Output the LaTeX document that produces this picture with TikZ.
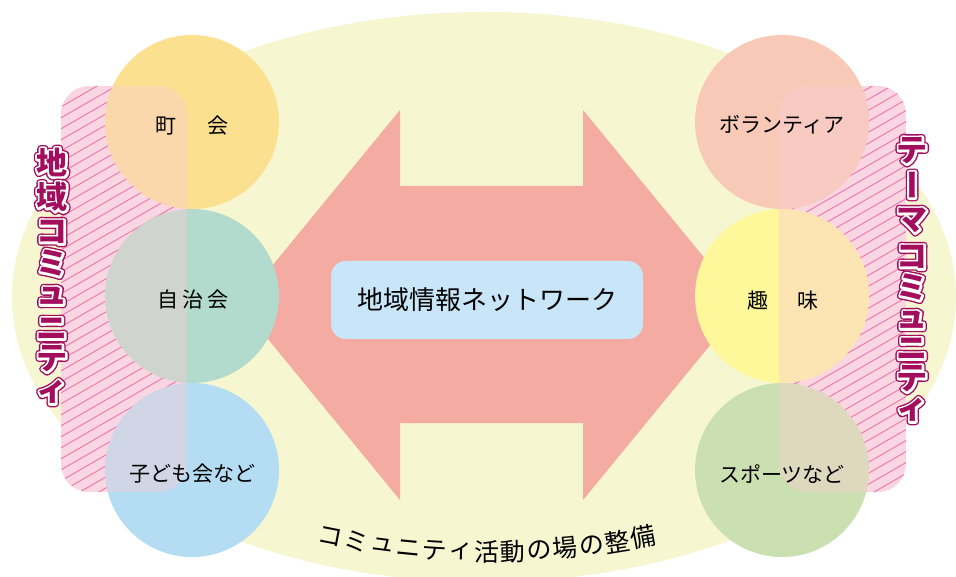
\documentclass[tikz,border=0pt]{standalone}
\usepackage{fontspec}
\setmainfont{Noto Sans CJK JP}
\definecolor{bgyellow}{HTML}{F6F6D0}
\definecolor{arrowpink}{HTML}{F4ABA2}
\definecolor{boxblue}{HTML}{C8E6F8}
\definecolor{hatchbg}{HTML}{FAD6E2}
\definecolor{hatchline}{HTML}{EE73A8}
\definecolor{ovpink}{HTML}{FACDD4}
\definecolor{mag}{HTML}{A30D5D}
\definecolor{cyellow}{HTML}{FBE18F}
\definecolor{cteal}{HTML}{B2DACD}
\definecolor{cblue}{HTML}{B4DDF4}
\definecolor{csalmon}{HTML}{F8C9B6}
\definecolor{clemon}{HTML}{FFF89A}
\definecolor{cgreen}{HTML}{CBE0B0}
\tikzset{
  bubble/.style={circle, inner sep=0pt, minimum size=174pt, draw=none},
  lbl/.style={inner sep=0pt, font=\fontsize{21}{24}\selectfont, text=black},
  vt/.style={inner sep=0pt, text height=23.5pt, text depth=0pt, font=\fontsize{31}{34}\selectfont\bfseries},
  bt/.style={inner sep=0pt, font=\fontsize{25}{28}\selectfont, text=black},
  hatchrect/.style={rounded corners=28pt},
}
\newcommand\stroked[3]{\special{pdf:code 2 Tr 1 j #1 w #2 RG}#3\special{pdf:code 0 Tr}}
\newcommand\vtchar[1]{%
  \makebox[0pt][l]{\color{mag}\stroked{7.2}{0.639 0.051 0.365}{#1}}%
  \makebox[0pt][l]{\color{white}\stroked{4.4}{1 1 1}{#1}}%
  {\color{mag}#1}}
\newcommand\vttitle[3]{% list, x, prefix
  \foreach \ch/\yy/\rr [count=\n] in {#1}{%
    \node[vt, rotate=\rr] (#3\n) at (#2,\yy) {\vtchar{\ch}};
  }%
}
\begin{document}
\begin{tikzpicture}[x=1pt,y=-1pt]
\useasboundingbox (0,0) rectangle (956,577);
\fill[white] (0,0) rectangle (956,577);
\clip (0,0) rectangle (956,577);
% background ellipse
\fill[bgyellow] (484,297) ellipse [x radius=472pt, y radius=285pt];
% double arrow
\fill[arrowpink] (240,305) -- (400,110) -- (400,186) -- (583,186) -- (583,110)
  -- (743,305) -- (583,500) -- (583,423) -- (400,423) -- (400,500) -- cycle;
% hatched rounded rectangles
\foreach \xa/\xb in {61/187, 779/906}{
  \begin{scope}
    \clip[hatchrect] (\xa,86) rectangle (\xb,492);
    \fill[hatchbg] (\xa,86) rectangle (\xb,492);
    \foreach \k in {0,...,45}{
      \draw[hatchline, line width=0.9pt] (\xa-2,86+\k*11) -- ++(130,-75);
    }
  \end{scope}
}
% circles
\node[bubble, fill=cyellow] (c1) at (192,122) {};
\node[bubble, fill=cteal]   (c2) at (192,296) {};
\node[bubble, fill=cblue]   (c3) at (192,470) {};
\node[bubble, fill=csalmon] (c4) at (782,122) {};
\node[bubble, fill=clemon]  (c5) at (782,296) {};
\node[bubble, fill=cgreen]  (c6) at (782,470) {};
% translucent overlay of the rectangles on the circles
\begin{scope}
  \clip (c1.center) circle[radius=87pt] (c2.center) circle[radius=87pt] (c3.center) circle[radius=87pt]
        (c4.center) circle[radius=87pt] (c5.center) circle[radius=87pt] (c6.center) circle[radius=87pt];
  \fill[ovpink, opacity=0.42, hatchrect] (61,86) rectangle (187,492);
  \fill[ovpink, opacity=0.42, hatchrect] (779,86) rectangle (906,492);
\end{scope}
% circle labels
\node[lbl] (t1) at (192,126) {町\hspace{31pt}会};
\node[lbl] (t2) at (193,300) {自\hspace{4pt}治\hspace{4pt}会};
\node[lbl] (t3) at (192,474) {子ども会など};
\node[lbl] (t4) at (782,125) {ボランティア};
\node[lbl] (t5) at (783,301) {趣\hspace{30pt}味};
\node[lbl] (t6) at (782,474) {スポーツなど};
% central label
\node[fill=boxblue, rounded corners=15pt, minimum width=312pt, minimum height=78pt, inner sep=0pt,
      font=\fontsize{26}{30}\selectfont] (net) at (487,300) {地域情報ネットワーク};
% curved bottom text
\foreach \c [count=\i] in {コ,ミ,ュ,ニ,テ,ィ,活,動,の,場,の,整,備}{
  \pgfmathsetmacro\phi{(\i-7)*1.826}
  \node[bt, rotate=\phi] (b\i) at ({487+822*sin(\phi)},{552-822*(1-cos(\phi))}) {\c};
}
% vertical titles
\vttitle{地/163/0, 域/197/0, コ/231/0, ミ/263/0, ュ/292/0, ニ/328/0, テ/358/0, ィ/389/0}{52}{L}
\vttitle{テ/150/0, ー/185/-90, マ/219/0, コ/256/0, ミ/287/0, ュ/316/0, ニ/348/0, テ/378/0, ィ/407/0}{912}{R}
\end{tikzpicture}
\end{document}
